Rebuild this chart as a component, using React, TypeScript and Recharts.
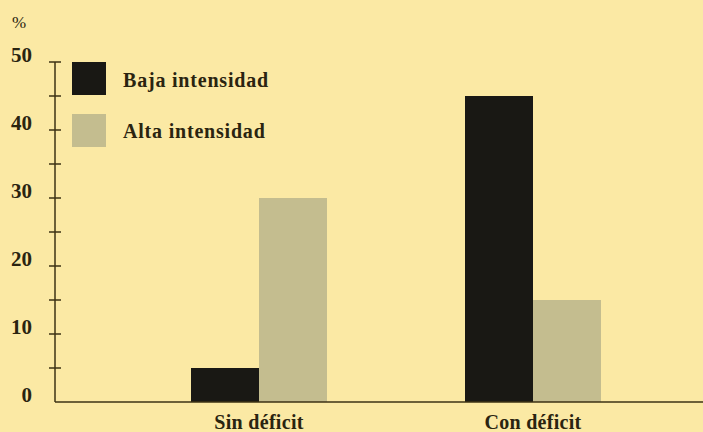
import React from "react";
import { BarChart, Bar, XAxis, YAxis } from "recharts";

const categories = ["Sin déficit", "Con déficit"];
const bajaIntensidad = [5, 45];
const altaIntensidad = [30, 15];
const yTicks = [0, 5, 10, 15, 20, 25, 30, 35, 40, 45, 50];
const seriesNames = ["Baja intensidad", "Alta intensidad"];
const seriesColors = ["#191814", "#c4bd8f"];

const data = categories.map((c, i) => ({
  cat: c,
  baja: bajaIntensidad[i],
  alta: altaIntensidad[i],
}));

const BG = "#fbe9a4";
const INK = "#2a2410";
const AXIS = "#3d3214";
const FONT = "'Liberation Serif', 'Times New Roman', serif";

const YTick = (props: any) => {
  const { x, y, payload } = props;
  const v = payload.value;
  return (
    <g>
      {v === 0 ? null : (
        <line x1={x - 6} x2={x + 6} y1={y} y2={y} stroke={AXIS} strokeWidth={1.5} />
      )}
      {v % 10 === 0 ? (
        <text
          x={x - 23}
          y={y}
          textAnchor="end"
          fontFamily={FONT}
          fontWeight="bold"
          fontSize={21}
          fill={INK}
        >
          {v}
        </text>
      ) : null}
    </g>
  );
};

export default function App() {
  return (
    <div style={{ position: "relative", width: 703, height: 432, background: BG }}>
      <style>{"body{margin:0}"}</style>
      <BarChart
        width={703}
        height={432}
        data={data}
        margin={{ top: 62, right: 0, bottom: 0, left: 0 }}
        barGap={0}
        barSize={68}
      >
        <XAxis
          dataKey="cat"
          padding={{ left: 67, right: 33 }}
          stroke={AXIS}
          strokeWidth={1.5}
          tickLine={false}
          tickSize={0}
          tickMargin={13}
          height={30}
          tick={{ fontSize: 20, fontWeight: "bold", fill: INK, fontFamily: FONT, letterSpacing: 0.3 }}
        />
        <YAxis
          width={55}
          domain={[0, 50]}
          ticks={yTicks}
          interval={0}
          stroke={AXIS}
          strokeWidth={1.5}
          tickLine={false}
          tickSize={0}
          tickMargin={0}
          tick={<YTick />}
        />
        <Bar dataKey="baja" name={seriesNames[0]} fill={seriesColors[0]} isAnimationActive={false} />
        <Bar dataKey="alta" name={seriesNames[1]} fill={seriesColors[1]} isAnimationActive={false} />
      </BarChart>
      <svg
        width={703}
        height={432}
        style={{ position: "absolute", left: 0, top: 0, pointerEvents: "none" }}
      >
        <text x={12} y={28} fontFamily={FONT} fontSize={17} fill={INK}>
          %
        </text>
        {seriesNames.map((n, i) => (
          <g key={n}>
            <rect x={72} y={62 + i * 52} width={34} height={33} fill={seriesColors[i]} />
            <text
              x={123}
              y={87 + i * 51}
              fontFamily={FONT}
              fontWeight="bold"
              fontSize={20}
              letterSpacing={0.8}
              fill={INK}
            >
              {n}
            </text>
          </g>
        ))}
      </svg>
    </div>
  );
}
